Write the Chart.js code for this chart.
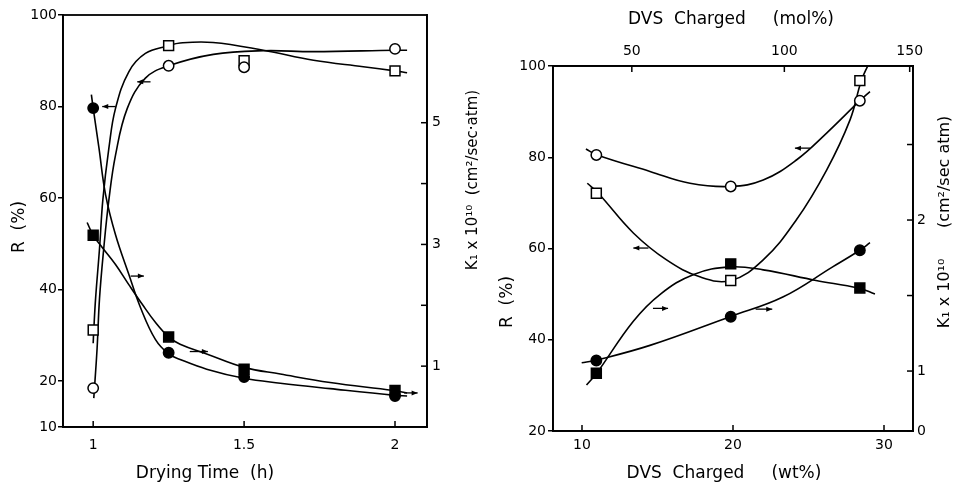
<!DOCTYPE html>
<html>
<head>
<meta charset="utf-8">
<script src="https://cdn.jsdelivr.net/npm/chart.js@4.4.1/dist/chart.umd.min.js"></script>
<style>
  body { margin: 0; background: #fff; }
  #leftChart { position: absolute; left: 0; top: 0; }
  #rightChart { position: absolute; left: 490px; top: 0; }
</style>
</head>
<body>
<canvas id="leftChart" width="490" height="486"></canvas>
<canvas id="rightChart" width="483" height="486"></canvas>
<script>
// ---- left panel: drying time ----
const dryTime = [1, 1.25, 1.5, 2];
const rCircle = [18.5, 88.9, 88.6, 92.6];      // open circles, R (%)
const rSquare = [31.2, 93.3, 90.0, 87.8];      // open squares, R (%)
const k1Circle = [5.24, 1.22, 0.82, 0.51];     // filled circles, K1 x 10^10
const k1Square = [3.15, 1.48, 0.95, 0.60];     // filled squares, K1 x 10^10

// fitted curves as drawn in the figure
const fitTimeCircle = [1.002, 1.013, 1.021, 1.035, 1.052, 1.074, 1.113, 1.173, 1.25, 1.398, 1.564, 1.73, 2.0, 2.04];
const fitRCircle = [16.3, 27.2, 38.1, 49.0, 59.6, 69.4, 79.6, 86.2, 88.9, 91.4, 92.2, 92.0, 92.3, 92.3];
const fitTimeSquare = [1.0, 1.002, 1.008, 1.021, 1.032, 1.052, 1.074, 1.118, 1.173, 1.25, 1.288, 1.397, 1.564, 1.73, 1.895, 2.0, 2.04];
const fitRSquare = [28.3, 31.2, 38.1, 49.0, 59.6, 70.9, 79.6, 87.6, 91.6, 93.3, 93.9, 94.0, 92.3, 90.1, 88.7, 87.8, 87.4];
const fitTimeK1Circle = [0.994, 1.0, 1.019, 1.041, 1.074, 1.118, 1.157, 1.206, 1.25, 1.288, 1.376, 1.5, 1.62, 1.785, 2.0, 2.04];
const fitK1Circle = [5.46, 5.24, 4.59, 3.82, 3.16, 2.51, 1.96, 1.44, 1.2, 1.11, 0.95, 0.80, 0.72, 0.63, 0.52, 0.51];
const fitTimeK1Square = [0.98, 1.0, 1.03, 1.074, 1.118, 1.162, 1.206, 1.25, 1.288, 1.376, 1.5, 1.62, 1.785, 1.994, 2.04];
const fitK1Square = [3.36, 3.15, 2.95, 2.67, 2.34, 2.02, 1.72, 1.48, 1.36, 1.20, 0.98, 0.87, 0.73, 0.60, 0.56];

const leftRTicks = [10, 20, 40, 60, 80, 100];
const leftTimeTicks = [1, 1.5, 2];
const leftTimeLabels = ['1', '1.5', '2'];
const leftK1Ticks = [1, 2, 3, 4, 5];
const leftK1Labels = ['1', '', '3', '', '5'];

// ---- right panel: DVS charged ----
const dvsWt = [10.95, 19.85, 28.4];
const rCircle2 = [80.5, 73.6, 92.4];
const rSquare2 = [72.1, 53.0, 96.8];
const k1Circle2 = [1.07, 1.36, 1.80];
const k1Square2 = [0.985, 1.71, 1.55];

const fitWtCircle = [10.26, 11.0, 14.5, 17.15, 19.85, 22.0, 24.2, 26.2, 28.4, 29.07];
const fitRCircle2 = [81.8, 80.5, 76.9, 74.3, 73.6, 75.0, 79.4, 85.3, 92.4, 94.4];
const fitWtSquare = [10.35, 11.08, 13.4, 15.6, 17.8, 19.87, 22.0, 24.2, 26.2, 27.75, 28.5, 28.96];
const fitRSquare2 = [74.3, 72.1, 63.4, 57.5, 53.8, 53.0, 57.5, 66.3, 77.2, 88.2, 96.8, 100.3];
const fitWtK1Square = [10.3, 10.97, 13.4, 15.2, 17.4, 19.8, 22.0, 25.5, 28.3, 29.4];
const fitK1Square2 = [0.907, 0.985, 1.33, 1.51, 1.64, 1.69, 1.67, 1.60, 1.55, 1.51];
const fitWtK1Circle = [9.98, 10.86, 14.5, 19.8, 23.3, 26.6, 28.4, 29.07];
const fitK1Circle2 = [1.055, 1.07, 1.17, 1.36, 1.49, 1.69, 1.80, 1.85];

const rightRTicks = [20, 40, 60, 80, 100];
const wtTicks = [10, 20, 30];
const molTickLabels = ['50', '100', '150'];
const molTickAtWt = [13.3, 23.4, 31.7];
const rightK1Ticks = [0.603, 1, 1.5, 2, 2.5];
const rightK1Labels = ['0', '1', '', '2', ''];

// small arrows telling which axis a curve belongs to
const leftArrows = [
  {x0: 1.03, x1: 1.074, y: 80.0, axis: 'y', dir: -1},
  {x0: 1.146, x1: 1.19, y: 85.4, axis: 'y', dir: -1},
  {x0: 1.124, x1: 1.168, y: 2.48, axis: 'y2', dir: 1},
  {x0: 1.32, x1: 1.38, y: 1.24, axis: 'y2', dir: 1},
  {x0: 2.03, x1: 2.075, y: 0.56, axis: 'y2', dir: 1}
];
const rightArrows = [
  {x0: 24.1, x1: 25.1, y: 82.0, axis: 'y', dir: -1},
  {x0: 13.4, x1: 14.4, y: 60.1, axis: 'y', dir: -1},
  {x0: 14.7, x1: 15.7, y: 1.415, axis: 'y2', dir: 1},
  {x0: 21.5, x1: 22.6, y: 1.41, axis: 'y2', dir: 1}
];

const INK = '#000';
Chart.defaults.font.family = 'DejaVu Sans';
Chart.defaults.color = INK;

function pts(xs, ys) {
  return xs.map((x, i) => ({x: x, y: ys[i]}));
}
function curve(xs, ys, axis) {
  return {data: pts(xs, ys), yAxisID: axis, showLine: true, pointRadius: 0,
    borderColor: INK, borderWidth: 1.6, tension: 0.4, order: 2};
}
function marks(xs, ys, axis, style, filled) {
  return {data: pts(xs, ys), yAxisID: axis, showLine: false,
    pointStyle: style, pointRadius: style === 'rect' ? 7 : 5.2,
    backgroundColor: filled ? INK : '#fff', borderColor: INK, borderWidth: 1.5, order: 0};
}
function fixedTicks(values) {
  return scale => { scale.ticks = values.map(v => ({value: v})); };
}

const figurePlugin = {
  id: 'figure',
  afterDraw(chart, args, opts) {
    const ctx = chart.ctx;
    const a = chart.chartArea;
    ctx.save();
    ctx.strokeStyle = INK;
    ctx.fillStyle = INK;
    ctx.lineWidth = 1.5;
    // inward tick marks
    (opts.inward || []).forEach(id => {
      const s = chart.scales[id];
      s.ticks.forEach(t => {
        const p = s.getPixelForValue(t.value);
        ctx.beginPath();
        if (s.position === 'bottom') { ctx.moveTo(p, a.bottom); ctx.lineTo(p, a.bottom - 6); }
        else if (s.position === 'top') { ctx.moveTo(p, a.top); ctx.lineTo(p, a.top + 6); }
        else { ctx.moveTo(a.right, p); ctx.lineTo(a.right - 6, p); }
        ctx.stroke();
      });
    });
    // frame
    ctx.lineWidth = 1.8;
    ctx.strokeRect(a.left, a.top, a.right - a.left, a.bottom - a.top);
    // arrows
    ctx.lineWidth = 1.3;
    (opts.arrows || []).forEach(ar => {
      const xs = chart.scales.x;
      const px0 = xs.getPixelForValue(ar.x0);
      const px1 = xs.getPixelForValue(ar.x1);
      const py = chart.scales[ar.axis].getPixelForValue(ar.y);
      ctx.beginPath(); ctx.moveTo(px0, py); ctx.lineTo(px1, py); ctx.stroke();
      const tip = ar.dir < 0 ? px0 : px1;
      ctx.beginPath();
      ctx.moveTo(tip, py);
      ctx.lineTo(tip - ar.dir * 6, py - 2.5);
      ctx.lineTo(tip - ar.dir * 6, py + 2.5);
      ctx.closePath(); ctx.fill();
    });
    // axis titles
    (opts.titles || []).forEach(t => {
      ctx.save();
      ctx.font = t.size + 'px "DejaVu Sans"';
      ctx.textAlign = 'center';
      ctx.textBaseline = 'middle';
      ctx.translate(t.x, t.y);
      if (t.rotate) ctx.rotate(-Math.PI / 2);
      ctx.fillText(t.text, 0, 0);
      ctx.restore();
    });
    ctx.restore();
  }
};

const tickFont = {size: 14};
const noGrid = {display: false, drawTicks: false};

new Chart(document.getElementById('leftChart'), {
  type: 'scatter',
  data: {
    datasets: [
      marks(dryTime, rCircle, 'y', 'circle', false),
      marks(dryTime, rSquare, 'y', 'rect', false),
      marks(dryTime, k1Circle, 'y2', 'circle', true),
      marks(dryTime, k1Square, 'y2', 'rect', true),
      curve(fitTimeCircle, fitRCircle, 'y'),
      curve(fitTimeSquare, fitRSquare, 'y'),
      curve(fitTimeK1Circle, fitK1Circle, 'y2'),
      curve(fitTimeK1Square, fitK1Square, 'y2')
    ]
  },
  options: {
    responsive: false,
    animation: false,
    layout: {padding: {top: 15, left: 0, right: 0, bottom: 0}},
    plugins: {
      legend: {display: false},
      tooltip: {enabled: false},
      figure: {
        inward: ['x', 'y2'],
        arrows: leftArrows,
        titles: [
          {text: 'R  (%)', x: 20, y: 227, size: 17, rotate: true},
          {text: 'K\u2081 x 10\u00b9\u2070  (cm\u00b2/sec\u00b7atm)', x: 473, y: 180, size: 15, rotate: true},
          {text: 'Drying Time  (h)', x: 205, y: 474, size: 17}
        ]
      }
    },
    scales: {
      x: {
        min: 0.9, max: 2.106,
        afterBuildTicks: fixedTicks(leftTimeTicks),
        afterFit: s => { s.height = 59; },
        grid: noGrid,
        border: {color: INK, width: 1.8},
        ticks: {font: tickFont, padding: 10, maxRotation: 0, callback: (v, i) => leftTimeLabels[i]}
      },
      y: {
        min: 10, max: 100,
        afterBuildTicks: fixedTicks(leftRTicks),
        afterFit: s => { s.width = 63; },
        grid: {drawOnChartArea: false, tickLength: 5, color: INK, lineWidth: 1.5},
        border: {color: INK, width: 1.8},
        ticks: {font: tickFont, padding: 1}
      },
      y2: {
        position: 'right',
        min: 0, max: 6.77,
        afterBuildTicks: fixedTicks(leftK1Ticks),
        afterFit: s => { s.width = 63; },
        grid: noGrid,
        border: {color: INK, width: 1.8},
        ticks: {font: tickFont, padding: 5, callback: (v, i) => leftK1Labels[i]}
      }
    }
  },
  plugins: [figurePlugin]
});

new Chart(document.getElementById('rightChart'), {
  type: 'scatter',
  data: {
    datasets: [
      marks(dvsWt, rCircle2, 'y', 'circle', false),
      marks(dvsWt, rSquare2, 'y', 'rect', false),
      marks(dvsWt, k1Circle2, 'y2', 'circle', true),
      marks(dvsWt, k1Square2, 'y2', 'rect', true),
      curve(fitWtCircle, fitRCircle2, 'y'),
      curve(fitWtSquare, fitRSquare2, 'y'),
      curve(fitWtK1Circle, fitK1Circle2, 'y2'),
      curve(fitWtK1Square, fitK1Square2, 'y2')
    ]
  },
  options: {
    responsive: false,
    animation: false,
    layout: {padding: 0},
    plugins: {
      legend: {display: false},
      tooltip: {enabled: false},
      figure: {
        inward: ['x', 'x2', 'y2'],
        arrows: rightArrows,
        titles: [
          {text: 'DVS  Charged     (mol%)', x: 241, y: 20, size: 17},
          {text: 'DVS  Charged     (wt%)', x: 234, y: 474, size: 17},
          {text: 'R  (%)', x: 18, y: 302, size: 17, rotate: true},
          {text: 'K\u2081 x 10\u00b9\u2070      (cm\u00b2/sec atm)', x: 455, y: 222, size: 16, rotate: true}
        ]
      }
    },
    scales: {
      x: {
        min: 8.08, max: 31.92,
        afterBuildTicks: fixedTicks(wtTicks),
        afterFit: s => { s.height = 55; },
        grid: noGrid,
        border: {color: INK, width: 1.8},
        ticks: {font: tickFont, padding: 6, maxRotation: 0}
      },
      x2: {
        position: 'top',
        min: 8.08, max: 31.92,
        afterBuildTicks: fixedTicks(molTickAtWt),
        afterFit: s => { s.height = 66; },
        grid: noGrid,
        border: {color: INK, width: 1.8},
        ticks: {font: tickFont, padding: 6, maxRotation: 0, callback: (v, i) => molTickLabels[i]}
      },
      y: {
        min: 20, max: 100,
        afterBuildTicks: fixedTicks(rightRTicks),
        afterFit: s => { s.width = 63; },
        grid: {drawOnChartArea: false, tickLength: 5, color: INK, lineWidth: 1.5},
        border: {color: INK, width: 1.8},
        ticks: {font: tickFont, padding: 2}
      },
      y2: {
        position: 'right',
        min: 0.603, max: 3.02,
        afterBuildTicks: fixedTicks(rightK1Ticks),
        afterFit: s => { s.width = 60; },
        grid: noGrid,
        border: {color: INK, width: 1.8},
        ticks: {font: tickFont, padding: 4, callback: (v, i) => rightK1Labels[i]}
      }
    }
  },
  plugins: [figurePlugin]
});
</script>
</body>
</html>
